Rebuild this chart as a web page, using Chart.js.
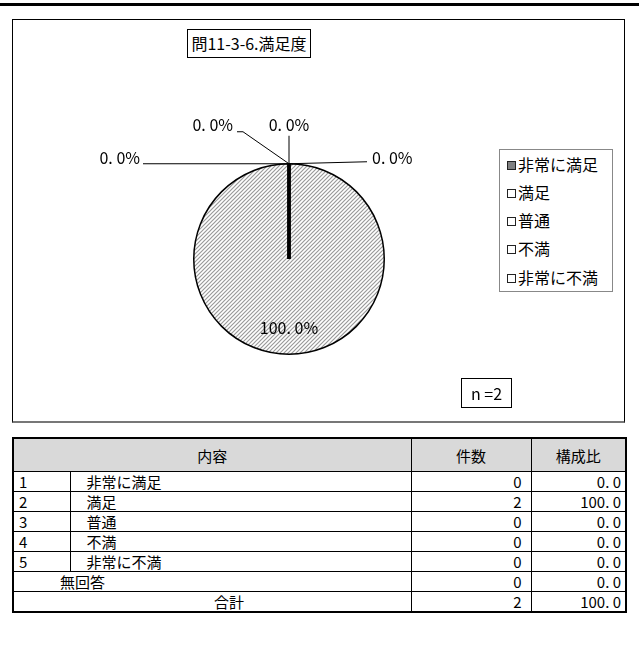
<!DOCTYPE html>
<html>
<head>
<meta charset="utf-8">
<script src="https://cdn.jsdelivr.net/npm/chart.js@4.4.0/dist/chart.umd.min.js"></script>
<style>
  body { margin: 0; width: 639px; height: 652px; background: #fff; position: relative; overflow: hidden;
         font-family: "Noto Sans CJK JP", sans-serif; color: #000; }
  #topline { position: absolute; left: 0; top: 3px; width: 639px; height: 3px; background: #000; }
  #frame { position: absolute; left: 12px; top: 19px; width: 611px; height: 401px;
           border: 1px solid #000; border-bottom: 2px solid #777; }
  #title { position: absolute; left: 187px; top: 29px; width: 122px; height: 27px; border: 1px solid #000;
           font-size: 16px; line-height: 27px; text-align: center; background: #fff; }
  #pie { position: absolute; left: 13px; top: 20px; }
  #legend { position: absolute; left: 499px; top: 149px; width: 112px; height: 141px; border: 1px solid #888;
            font-size: 16px; }
  #legend div { position: absolute; left: 7px; white-space: nowrap; line-height: 20px; }
  #legend span { display: inline-block; width: 7px; height: 7px; border: 1px solid #222; margin-right: 2px;
                 vertical-align: 1px; }
  #nbox { position: absolute; left: 461px; top: 378px; width: 49px; height: 28px; border: 1px solid #000;
          font-size: 16px; line-height: 28px; text-align: center; }
  table { position: absolute; left: 12px; top: 437px; width: 613px; border-collapse: collapse;
          border: 2px solid #000; font-size: 15px; table-layout: fixed; }
  td, th { border: 1px solid #000; padding: 0; height: 19px; line-height: 19px; font-weight: normal; }
  th { height: 32px; background: #d9d9d9; text-align: center; }
  td.num { text-align: right; padding-right: 9px; }
  td.pct { text-align: right; padding-right: 4px; }
  td.no { padding-left: 5px; }
  td.cat { padding-left: 16px; }
</style>
</head>
<body>
<div id="topline"></div>
<div id="frame"></div>
<canvas id="pie" width="478" height="400"></canvas>
<div id="title"></div>
<div id="legend"></div>
<div id="nbox">n =2</div>
<table id="tbl"></table>

<script>
// ---------------------- DATOS ----------------------
const chartTitle = "問11-3-6.満足度";
const categories = ["非常に満足", "満足", "普通", "不満", "非常に不満"];
const counts = [0, 2, 0, 0, 0];
const ratios = [0.0, 100.0, 0.0, 0.0, 0.0];
const noAnswerLabel = "無回答";
const noAnswerCount = 0;
const noAnswerRatio = 0.0;
const totalLabel = "合計";
const totalCount = 2;
const totalRatio = 100.0;
const tableHeaders = ["内容", "件数", "構成比"];

// ---------------------- PATRON RAYADO ----------------------
function hatch() {
  const c = document.createElement("canvas");
  c.width = 4; c.height = 4;
  const g = c.getContext("2d");
  g.fillStyle = "#ffffff";
  g.fillRect(0, 0, 4, 4);
  g.strokeStyle = "#9a9a9a";
  g.lineWidth = 1.2;
  g.beginPath();
  g.moveTo(-1, 5); g.lineTo(5, -1);
  g.moveTo(-1, 1); g.lineTo(1, -1);
  g.moveTo(3, 5); g.lineTo(5, 3);
  g.stroke();
  return g.createPattern(c, "repeat");
}

const sliceColors = ["#808080", hatch(), "#ffffff", "#ffffff", "#ffffff"];
const legendColors = ["#808080", "#ffffff", "#ffffff", "#ffffff", "#ffffff"];

// ---------------------- TITULO / LEYENDA ----------------------
document.getElementById("title").textContent = chartTitle;

const legendTops = [4, 32, 60, 88, 117];
document.getElementById("legend").innerHTML = categories
  .map((c, i) => `<div style="top:${legendTops[i]}px"><span style="background:${legendColors[i]}"></span>${c}</div>`)
  .join("");

// ---------------------- TABLA ----------------------
const fmt = (v) => v.toFixed(1).replace(".", ". ");
let html = `<colgroup><col style="width:57px"><col style="width:341px"><col style="width:120px"><col style="width:95px"></colgroup>`;
html += `<tr><th colspan="2">${tableHeaders[0]}</th><th>${tableHeaders[1]}</th><th>${tableHeaders[2]}</th></tr>`;
html += categories
  .map((c, i) => `<tr><td class="no">${i + 1}</td><td class="cat">${c}</td><td class="num">${counts[i]}</td><td class="pct">${fmt(ratios[i])}</td></tr>`)
  .join("");
html += `<tr><td colspan="2" style="padding-left:46px">${noAnswerLabel}</td><td class="num">${noAnswerCount}</td><td class="pct">${fmt(noAnswerRatio)}</td></tr>`;
html += `<tr><td colspan="2" style="padding-left:200px">${totalLabel}</td><td class="num">${totalCount}</td><td class="pct">${fmt(totalRatio)}</td></tr>`;
document.getElementById("tbl").innerHTML = html;

// ---------------------- ETIQUETAS ----------------------
// posiciones de las etiquetas de 0% alrededor del punto superior del pastel
const zeroLabelLayout = [
  { tx: -149, ty: -6, align: "right", line: [[-146, 0], [0, 0]] },
  { tx: -56, ty: -39, align: "right", line: [[-52, -32], [-46, -32], [0, 0]] },
  { tx: 0, ty: -39, align: "center", line: [[0, -28], [0, 0]] },
  { tx: 83, ty: -6, align: "left", line: [[0, 0], [78, -2]] },
];

const labelPlugin = {
  id: "pieLabels",
  afterDatasetsDraw(chart) {
    const ctx = chart.ctx;
    const arcs = chart.getDatasetMeta(0).data;
    const total = counts.reduce((a, b) => a + b, 0);
    ctx.save();
    ctx.font = '16px "Noto Sans CJK JP", sans-serif';
    ctx.fillStyle = "#000";
    ctx.strokeStyle = "#000";
    ctx.textBaseline = "middle";
    let z = 0;
    arcs.forEach((arc, i) => {
      const p = arc.getProps(["x", "y", "startAngle", "endAngle", "outerRadius"], true);
      const pct = ((counts[i] / total) * 100).toFixed(1).replace(".", ". ") + "%";
      if (counts[i] === 0) {
        const px = p.x + p.outerRadius * Math.cos(p.startAngle);
        const py = p.y + p.outerRadius * Math.sin(p.startAngle);
        const L = zeroLabelLayout[z++];
        ctx.lineWidth = 1;
        ctx.beginPath();
        L.line.forEach((pt, k) => (k === 0 ? ctx.moveTo(px + pt[0], py + pt[1]) : ctx.lineTo(px + pt[0], py + pt[1])));
        ctx.stroke();
        ctx.textAlign = L.align;
        ctx.fillText(pct, px + L.tx, py + L.ty);
        // borde grueso de los sectores vacios
        ctx.lineWidth = 3;
        ctx.beginPath();
        ctx.moveTo(p.x, p.y);
        ctx.lineTo(px, py);
        ctx.stroke();
      } else {
        const mid = (p.startAngle + p.endAngle) / 2;
        ctx.textAlign = "center";
        ctx.fillText(pct, p.x + 0.72 * p.outerRadius * Math.cos(mid), p.y + 0.72 * p.outerRadius * Math.sin(mid));
      }
    });
    ctx.restore();
  },
};

// ---------------------- GRAFICO ----------------------
new Chart(document.getElementById("pie"), {
  type: "pie",
  data: {
    labels: categories,
    datasets: [
      {
        data: counts,
        backgroundColor: sliceColors,
        borderColor: "#000",
        borderWidth: 1.5,
      },
    ],
  },
  options: {
    responsive: false,
    animation: false,
    layout: { padding: { left: 180, top: 143, right: 106, bottom: 65 } },
    plugins: { legend: { display: false }, tooltip: { enabled: false } },
  },
  plugins: [labelPlugin],
});
</script>
</body>
</html>
